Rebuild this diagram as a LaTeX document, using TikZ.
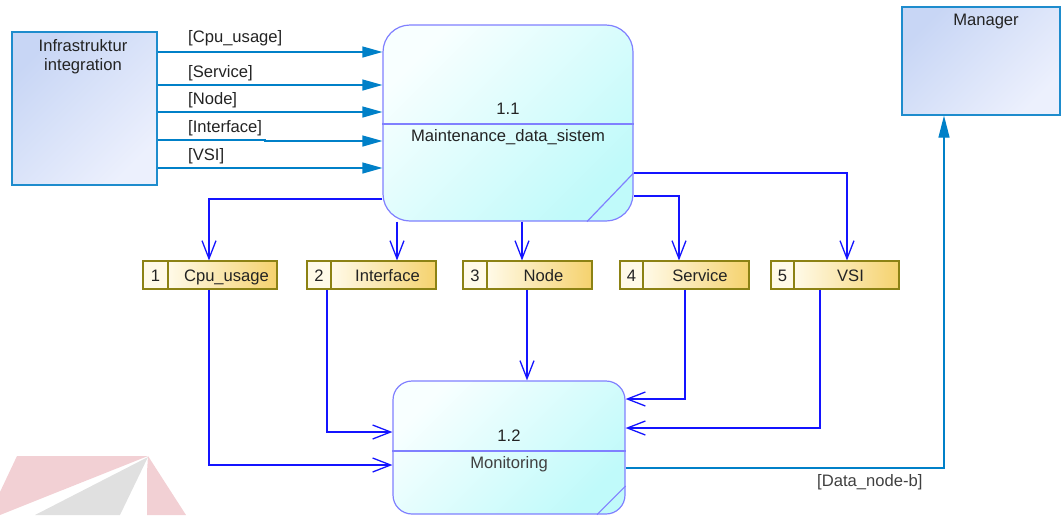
\documentclass[tikz,border=0pt]{standalone}
\usepackage{fontspec}
\setmainfont{Liberation Sans}
\usetikzlibrary{arrows.meta,calc}
\definecolor{flowblue}{RGB}{20,20,255}
\definecolor{extblue}{RGB}{0,128,200}
\definecolor{extborder}{RGB}{30,140,205}
\definecolor{extlight}{RGB}{236,240,253}
\definecolor{extdark}{RGB}{200,214,245}
\definecolor{procborder}{RGB}{128,128,255}
\definecolor{proclight}{RGB}{248,255,255}
\definecolor{procdark}{RGB}{192,250,250}
\definecolor{dsborder}{RGB}{140,130,20}
\definecolor{dslight}{RGB}{255,250,232}
\definecolor{dsdark}{RGB}{245,210,110}
\definecolor{txt}{RGB}{35,35,35}
\definecolor{wmpink}{RGB}{242,208,212}
\definecolor{wmgrey}{RGB}{224,224,224}
\newcommand{\dstore}[6]{%
  \node[dsnum, minimum width={#3-#2}] (#1n) at ({(#2+#3)/2},275) {#5};
  \node[dsname, minimum width={#4-#3}] (#1) at ({(#3+#4)/2},275) {\hspace*{8pt}#6};
}
\begin{document}
\begin{tikzpicture}[x=1pt,y=-1pt,
  every node/.style={font=\fontsize{16.6}{19}\selectfont, text=txt},
  extent/.style={draw=extborder, line width=1.2pt, top color=extdark, bottom color=extlight, shading angle=45, inner sep=0pt},
  proc/.style={draw=procborder, line width=1.2pt, rounded corners=#1, top color=proclight, bottom color=procdark, shading angle=45, inner sep=0pt},
  dsnum/.style={draw=dsborder, line width=1.1pt, fill=dslight, minimum height=28pt, inner sep=0pt, text height=15pt, text depth=2.5pt},
  dsname/.style={draw=dsborder, line width=1.1pt, left color=dslight, right color=dsdark, minimum height=28pt, inner sep=0pt, text height=15pt, text depth=2.5pt},
  inflow/.style={draw=extblue, line width=1.2pt, -{Triangle[length=20pt,width=11pt]}},
  flow/.style={draw=flowblue, line width=1.3pt, -{Straight Barb[length=18pt,width=14pt,line width=1.3pt]}},
  lbl/.style={anchor=west, inner sep=0pt, text=txt}]
\useasboundingbox (0,0) rectangle (1061,515);
% watermark
\fill[wmpink] (17,456) -- (148,456) -- (40,499) -- (0,515) -- (0,492) -- cycle;
\fill[wmgrey] (148,457) -- (120,515) -- (35,515) -- cycle;
\fill[wmpink] (148,456) -- (186,515) -- (147,515) -- (147,472) -- cycle;
% external entities
\node[extent, minimum width=145pt, minimum height=153pt] (ext) at (84.5,108.5) {};
\node[align=center] (extlab) at (83,57) {Infrastruktur\\integration};
\node[extent, minimum width=158pt, minimum height=108pt] (mgr) at (981,61) {};
\node (mgrlab) at (986,22) {Manager};
% process 1.1
\node[proc=27pt, minimum width=250pt, minimum height=196pt] (p11) at (508,123) {};
\draw[procborder, line width=1.2pt] (p11.west |- 0,124) -- (p11.east |- 0,124);
\draw[procborder, line width=1.2pt] (p11.east |- 0,173) -- (p11.south -| 587,0);
\node (p11num) at (508,109) {1.1};
\node (p11name) at (508,137) {Maintenance\_data\_sistem};
% process 1.2
\node[proc=19pt, minimum width=232pt, minimum height=133pt] (p12) at (509,447.5) {};
\draw[procborder, line width=1.2pt] (p12.west |- 0,451) -- (p12.east |- 0,451);
\draw[procborder, line width=1.2pt] (p12.east |- 0,486) -- (p12.south -| 597,0);
\node (p12num) at (509,436) {1.2};
\node[text={rgb,255:red,64;green,64;blue,64}] (p12name) at (509,464) {Monitoring};
% data stores
\dstore{ds1}{143}{168}{277}{1}{Cpu\_usage}
\dstore{ds2}{307}{331}{436}{2}{Interface}
\dstore{ds3}{463}{487}{592}{3}{Node}
\dstore{ds4}{620}{643}{749}{4}{Service}
\dstore{ds5}{771}{794}{899}{5}{VSI}
% inflows from Infrastruktur integration
\draw[inflow] (ext.east |- 0,52) -- (p11.west |- 0,52);
\draw[inflow] (ext.east |- 0,85) -- (p11.west |- 0,85);
\draw[inflow] (ext.east |- 0,112) -- (p11.west |- 0,112);
\draw[inflow] (ext.east |- 0,140) -- (265,140) -- (265,141) -- (p11.west |- 0,141);
\draw[inflow] (ext.east |- 0,168) -- (p11.west |- 0,168);
\node[lbl] (l1) at (188,38) {[Cpu\_usage]};
\node[lbl] (l2) at (188,73) {[Service]};
\node[lbl] (l3) at (188,100) {[Node]};
\node[lbl] (l4) at (188,128) {[Interface]};
\node[lbl] (l5) at (188,156) {[VSI]};
% flows from 1.1 to data stores
\draw[flow] (p11.west |- 0,199) -| (ds1.north -| 209,0);
\draw[flow] (p11.south -| 397,0) -- (ds2.north -| 397,0);
\draw[flow] (p11.south -| 522,0) -- (ds3.north -| 522,0);
\draw[flow] (p11.east |- 0,196) -| (ds4.north -| 679,0);
\draw[flow] (p11.east |- 0,173) -| (ds5.north -| 847,0);
% flows from data stores to 1.2
\draw[flow] (ds1.south -| 209,0) |- (p12.west |- 0,465);
\draw[flow] (ds2.south -| 327,0) |- (p12.west |- 0,432);
\draw[flow] (ds3.south -| 527,0) -- (p12.north -| 527,0);
\draw[flow] (ds4.south -| 685,0) |- (p12.east |- 0,399);
\draw[flow] (ds5.south -| 820,0) |- (p12.east |- 0,428);
% outflow to Manager
\draw[extblue, line width=1.2pt, -{Triangle[length=22pt,width=11pt]}] (p12.east |- 0,468) -| (mgr.south -| 944,0);
\node[lbl, text={rgb,255:red,64;green,64;blue,64}] (l6) at (817,482) {[Data\_node-b]};
\end{tikzpicture}
\end{document}
